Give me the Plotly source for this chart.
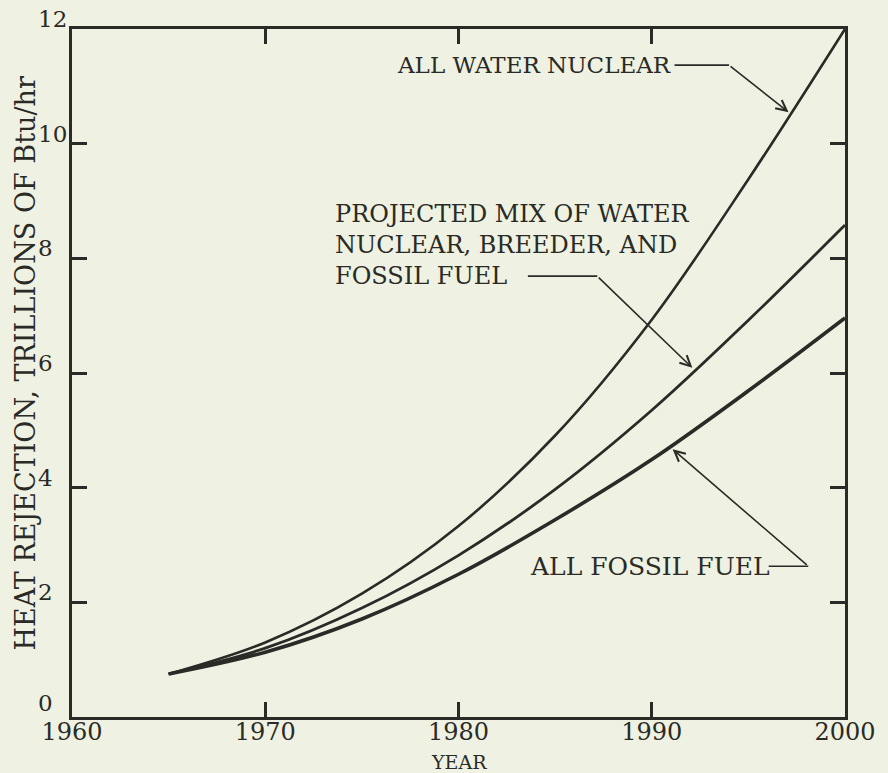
import plotly.graph_objects as go

# ---- data ----
years = [1965, 1970, 1975, 1980, 1985, 1990, 1995, 2000]
all_water_nuclear = [0.75, 1.30, 2.15, 3.33, 4.91, 6.93, 9.38, 12.00]
projected_mix = [0.75, 1.20, 1.90, 2.82, 3.97, 5.35, 6.92, 8.58]
all_fossil_fuel = [0.75, 1.13, 1.71, 2.49, 3.44, 4.49, 5.69, 6.96]

x_ticks = [1960, 1970, 1980, 1990, 2000]
y_ticks = [0, 2, 4, 6, 8, 10, 12]

INK = "#2a2a26"
BG = "#eff1e2"
SERIF = "DejaVu Serif, serif"

fig = go.Figure()
for vals, w in [(all_water_nuclear, 2.6), (projected_mix, 2.8), (all_fossil_fuel, 3.6)]:
    fig.add_trace(go.Scatter(x=years, y=vals, mode="lines",
                             line=dict(color=INK, width=w, shape="spline", smoothing=1.0),
                             showlegend=False, hoverinfo="skip"))

annotations = []
# y tick labels (left aligned, raised above ticks as in original)
for v in y_ticks:
    annotations.append(dict(x=-0.046, xref="paper", y=v, yref="y", text=str(v),
                            showarrow=False, xanchor="left", yanchor="middle",
                            yshift=14 if v == 0 else 10,
                            font=dict(family=SERIF, size=23, color=INK)))

# axis titles
annotations.append(dict(x=0.5, xref="paper", y=-45 / 688, yref="paper", text="YEAR",
                        showarrow=False, xanchor="center", yanchor="middle",
                        font=dict(family=SERIF, size=19, color=INK)))
annotations.append(dict(x=-47 / 780, xref="paper", y=0.5145, yref="paper",
                        text="HEAT REJECTION, TRILLIONS OF Btu/hr", textangle=-90,
                        showarrow=False, xanchor="center", yanchor="middle",
                        font=dict(family=SERIF, size=27, color=INK)))

# curve labels
annotations.append(dict(x=1976.72, y=11.37, text="ALL WATER NUCLEAR", showarrow=False,
                        xanchor="left", yanchor="middle",
                        font=dict(family=SERIF, size=23, color=INK)))
annotations.append(dict(x=1973.49, y=8.23,
                        text="PROJECTED MIX OF WATER<br>NUCLEAR, BREEDER, AND<br>FOSSIL FUEL",
                        showarrow=False, xanchor="left", yanchor="middle", align="left",
                        font=dict(family=SERIF, size=24, color=INK)))
annotations.append(dict(x=1983.59, y=2.62, text="ALL FOSSIL FUEL", showarrow=False,
                        xanchor="left", yanchor="middle",
                        font=dict(family=SERIF, size=25, color=INK)))

# leader lines: horizontal part as shapes, slanted part as arrows
leaders = [
    # (h_start_x, bend_x, bend_y, tip_x, tip_y)
    (1991.18, 1994.00, 11.37, 1997.08, 10.55),
    (1983.59, 1987.18, 7.69, 1992.10, 6.09),
    (1996.05, 1998.10, 2.63, 1991.08, 4.67),
]
shapes = []
for hx, bx, by, tx, ty in leaders:
    shapes.append(dict(type="line", x0=hx, x1=bx, y0=by, y1=by, xref="x", yref="y",
                       line=dict(color=INK, width=1.6)))
    annotations.append(dict(x=tx, y=ty, ax=bx, ay=by, axref="x", ayref="y", text="",
                            showarrow=True, arrowhead=5, arrowsize=1.3, arrowwidth=1.6,
                            arrowcolor=INK))

fig.update_layout(
    width=888, height=773,
    margin=dict(l=72, r=36, t=29, b=56),
    paper_bgcolor=BG, plot_bgcolor=BG,
    annotations=annotations, shapes=shapes,
    xaxis=dict(range=[1960, 2000], tickvals=x_ticks, ticks="inside", ticklen=15,
               tickwidth=2.5, tickcolor=INK, showline=True, linewidth=3, linecolor=INK,
               mirror="ticks", showgrid=False, zeroline=False, ticklabelstandoff=-9,
               tickfont=dict(family=SERIF, size=24, color=INK)),
    yaxis=dict(range=[0, 12], tickvals=y_ticks, ticks="inside", ticklen=15,
               tickwidth=2.5, tickcolor=INK, showline=True, linewidth=3, linecolor=INK,
               mirror="ticks", showgrid=False, zeroline=False, showticklabels=False),
)

fig.write_html("out.html")
